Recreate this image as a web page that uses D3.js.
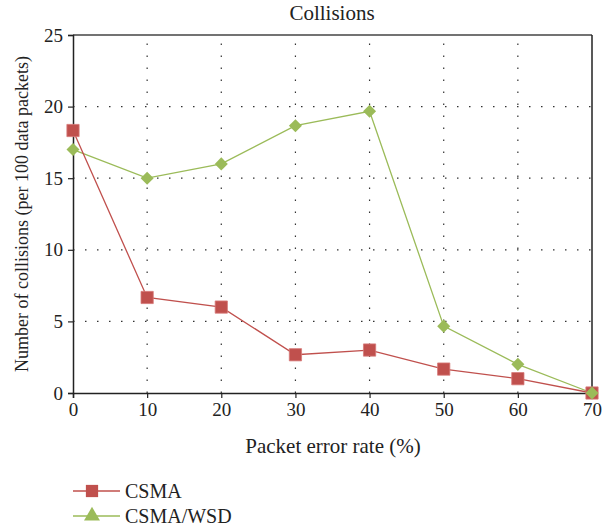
<!DOCTYPE html>
<html><head><meta charset="utf-8">
<script src="https://cdn.jsdelivr.net/npm/d3@7"></script>
<style>body{margin:0;background:#fff}svg{display:block}text{font-family:"Liberation Serif","DejaVu Serif",serif;fill:#222}</style>
</head><body>
<script>
const xValues = [0, 10, 20, 30, 40, 50, 60, 70];
const csma = [18.33, 6.67, 6.0, 2.67, 3.0, 1.67, 1.0, 0];
const csmaWsd = [17, 15, 16, 18.67, 19.67, 4.67, 2.0, 0];
const yTicks = [0, 5, 10, 15, 20, 25];
const xTicks = [0, 10, 20, 30, 40, 50, 60, 70];
const seriesNames = ["CSMA", "CSMA/WSD"];

const W = 603, H = 531;
const m = {l: 73, r: 11, t: 35, b: 138};
const svg = d3.select("body").append("svg").attr("width", W).attr("height", H);
const x = d3.scaleLinear().domain([0, 70]).range([m.l, W - m.r]);
const y = d3.scaleLinear().domain([0, 25]).range([H - m.b, m.t]);

// grid
const g = svg.append("g");
g.selectAll(".gx").data(xTicks.slice(1, -1)).join("line")
  .attr("x1", d => x(d)).attr("x2", d => x(d)).attr("y1", y(0)).attr("y2", y(25))
  .attr("stroke", "#333").attr("stroke-width", 1.2).attr("stroke-dasharray", "1.5,10.5");
g.selectAll(".gy").data(yTicks.slice(1, -1)).join("line")
  .attr("x1", x(0)).attr("x2", x(70)).attr("y1", d => y(d)).attr("y2", d => y(d))
  .attr("stroke", "#333").attr("stroke-width", 1.2).attr("stroke-dasharray", "1.5,10.5");

// border top/right
svg.append("line").attr("x1", x(0)).attr("x2", x(70)).attr("y1", y(25)).attr("y2", y(25)).attr("stroke", "#444").attr("stroke-width", 1.5);
svg.append("line").attr("x1", x(70)).attr("x2", x(70)).attr("y1", y(25)).attr("y2", y(0)).attr("stroke", "#222").attr("stroke-width", 1.5);

// axes
const xAxis = svg.append("g").attr("transform", `translate(0,${y(0)})`)
  .call(d3.axisBottom(x).tickValues(xTicks).tickSize(5).tickPadding(5).tickFormat(d3.format("d")));
const yAxis = svg.append("g").attr("transform", `translate(${x(0)},0)`)
  .call(d3.axisLeft(y).tickValues(yTicks).tickSize(5).tickPadding(5).tickFormat(d3.format("d")));
[xAxis, yAxis].forEach(a => {
  a.select(".domain").attr("stroke", "#222").attr("stroke-width", 1.5);
  a.selectAll(".tick line").attr("stroke", "#222").attr("stroke-width", 1.2);
  a.selectAll("text").style("font-size", "19px").attr("fill", "#222").style("font-family", '"Liberation Serif",serif');
});

const colors = ["#c0504d", "#9bbb59"];
const line = d3.line().x((d, i) => x(xValues[i])).y(d => y(d));
const data = [csma, csmaWsd];

[1, 0].forEach(k => {
  svg.append("path").datum(data[k]).attr("d", line).attr("fill", "none")
    .attr("stroke", colors[k]).attr("stroke-width", 1.3);
});
// markers
svg.append("g").selectAll("path").data(csmaWsd).join("path")
  .attr("transform", (d, i) => `translate(${x(xValues[i])},${y(d)}) rotate(45)`)
  .attr("d", d3.symbol(d3.symbolSquare, 85)).attr("fill", colors[1]);
svg.append("g").selectAll("path").data(csma).join("path")
  .attr("transform", (d, i) => `translate(${x(xValues[i])},${y(d)})`)
  .attr("d", d3.symbol(d3.symbolSquare, 150)).attr("fill", colors[0]).attr("stroke", "#d77a78").attr("stroke-width", 0.8);
svg.append("path").attr("transform", `translate(${x(70)},${y(0)}) rotate(45)`)
  .attr("d", d3.symbol(d3.symbolSquare, 85)).attr("fill", colors[1]);

// title & labels
svg.append("text").attr("x", 332).attr("y", 20).attr("text-anchor", "middle").style("font-size", "21px").text("Collisions");
svg.append("text").attr("x", 333).attr("y", 453).attr("text-anchor", "middle").style("font-size", "21px").text("Packet error rate (%)");
svg.append("text").attr("transform", `translate(28,${(y(0) + y(25)) / 2}) rotate(-90)`).attr("text-anchor", "middle").style("font-size", "18px").text("Number of collisions (per 100 data packets)");

// legend
const lg = svg.append("g");
seriesNames.forEach((n, i) => {
  const yy = 491 + i * 25;
  lg.append("line").attr("x1", 73).attr("x2", 120).attr("y1", yy).attr("y2", yy).attr("stroke", colors[i]).attr("stroke-width", 1.3);
  lg.append("path").attr("transform", `translate(92,${yy})`)
    .attr("d", d3.symbol(i === 0 ? d3.symbolSquare : d3.symbolTriangle, i === 0 ? 150 : 110)).attr("fill", colors[i]);
  lg.append("text").attr("x", 125).attr("y", yy + 7).style("font-size", "20px").text(n);
});
</script>
</body></html>
